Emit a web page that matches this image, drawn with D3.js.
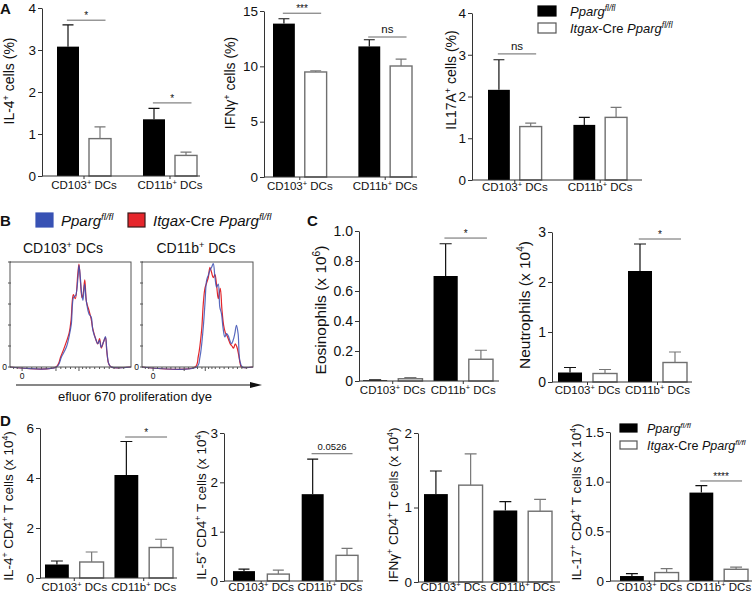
<!DOCTYPE html>
<html><head><meta charset="utf-8">
<script src="https://cdn.jsdelivr.net/npm/d3@7/dist/d3.min.js"></script>
<style>body{margin:0;background:#fff}svg{display:block}text{font-family:"Liberation Sans",Arial,sans-serif;fill:#111}</style>
</head><body><svg id="c" width="754" height="594"></svg>
<script>
// ---------- shared categories ----------
const groups = ["CD103", "CD11b"];
const groupLabels = ["CD103^{+} DCs", "CD11b^{+} DCs"];
const genotypes = ["WT", "KO"];
const legendLabels = ["*Pparg*^{*fl/fl*}", "*Itgax*-Cre *Pparg*^{*fl/fl*}"];

// ---------- Panel A ----------
const il4PctWT = [3.08, 1.35], il4PctWTsem = [0.52, 0.26];
const il4PctKO = [0.89, 0.49], il4PctKOsem = [0.28, 0.08];
const il4PctSig = [[0, 3.71, "*"], [1, 1.74, "*"]];
const il4PctTicks = [0, 1, 2, 3, 4];

const ifngPctWT = [13.86, 11.8], ifngPctWTsem = [0.44, 0.6];
const ifngPctKO = [9.49, 10.03], ifngPctKOsem = [0.11, 0.63];
const ifngPctSig = [[0, 14.8, "***"], [1, 12.65, "ns"]];
const ifngPctTicks = [0, 5, 10, 15];

const il17PctWT = [2.16, 1.32], il17PctWTsem = [0.72, 0.18];
const il17PctKO = [1.28, 1.5], il17PctKOsem = [0.08, 0.24];
const il17PctSig = [[0, 3.02, "ns"]];
const il17PctTicks = [0, 1, 2, 3, 4];

// ---------- Panel B (histograms: channel %, count % of max) ----------
const cd103Blue = [[0,0],[38.4,0],[42.5,9.5],[46.6,19],[49.3,31.7],[50.7,41],[52.6,66.7],[54.2,68],[56.2,85.7],[57,96.8],[58.1,85.7],[59.2,69.8],[60.3,63.5],[61.6,79],[63,63.5],[65.2,50.8],[67.1,47.6],[68.5,34.9],[71.2,25.4],[72.6,22.2],[74,25.4],[75.3,19],[77.3,23.8],[78.9,29],[80,15.9],[81.6,3.2],[83.6,0],[100,0]];
const cd103Red = [[0,0],[38,0],[42,10],[46,22],[49,33],[50.5,45],[52.3,69],[54,65],[56,88],[57,98],[58.3,80],[59.5,66],[60.5,70],[61.8,83],[63.2,62],[65,55],[67,46],[68.5,36],[71,26],[72.5,22],[74,27],[75.5,18],[77.3,24],[78.9,28],[80,15],[81.6,3],[83.6,0],[100,0]];
const cd11bBlue = [[0,0],[49.3,0],[52.2,9.5],[55.2,38],[56.7,60],[58.2,82.5],[59.7,87.3],[61.2,92],[62.7,95],[64.2,98.4],[65.7,85.7],[67.2,76],[68.7,79],[70.1,57],[71.6,50.8],[73.1,36.5],[74.6,28.6],[76.1,31.7],[77.6,30],[79.1,25.4],[80.6,22.2],[82.1,25.4],[83.6,31.7],[85.1,39.7],[86.6,31.7],[88.1,6.3],[90.4,0],[100,0]];
const cd11bRed = [[0,0],[47.8,0],[50.7,10],[53.7,35],[55.2,60],[56.7,75],[58.2,80],[59.7,85],[61.2,95],[62.7,90],[64.2,85],[65.7,88],[67.2,78],[68.7,65],[70.5,75],[72,55],[73.5,40],[75,33],[76.5,30],[78,26],[79.5,22],[81,20],[82.5,18],[84,22],[85.5,19],[87,12],[88.5,3],[89.5,0],[100,0]];
const histTitles = ["CD103^{+} DCs", "CD11b^{+} DCs"];
const histLeftTicks = [0, 20, 40, 60, 80, 100];
const histBottomTicks = [3, 6, 10, 14, 18, 22, 26, 30, 34, 38, 42, 46, 50, 54, 57, 60, 63, 66, 70, 74, 78, 82, 86, 90, 94];
const histXLabel = "efluor 670 proliferation dye";

// ---------- Panel C ----------
const eosWT = [0.005, 0.70], eosWTsem = [0.003, 0.215];
const eosKO = [0.015, 0.145], eosKOsem = [0.008, 0.06];
const eosSig = [[1, 0.953, "*"]];
const eosTicks = [0, 0.2, 0.4, 0.6, 0.8, 1.0];

const neutWT = [0.19, 2.22], neutWTsem = [0.1, 0.54];
const neutKO = [0.17, 0.39], neutKOsem = [0.08, 0.21];
const neutSig = [[1, 2.86, "*"]];
const neutTicks = [0, 1, 2, 3];

// ---------- Panel D ----------
const il4TWT = [0.54, 4.12], il4TWTsem = [0.14, 1.34];
const il4TKO = [0.64, 1.22], il4TKOsem = [0.4, 0.33];
const il4TSig = [[1, 5.64, "*"]];
const il4TTicks = [0, 2, 4, 6];

const il5TWT = [0.2, 1.76], il5TWTsem = [0.04, 0.71];
const il5TKO = [0.14, 0.52], il5TKOsem = [0.08, 0.14];
const il5TSig = [[1, 2.58, "0.0526"]];
const il5TTicks = [0, 1, 2, 3];

const ifngTWT = [1.18, 0.96], ifngTWTsem = [0.31, 0.12];
const ifngTKO = [1.30, 0.95], ifngTKOsem = [0.42, 0.16];
const ifngTSig = [];
const ifngTTicks = [0, 1, 2];

const il17TWT = [0.05, 0.89], il17TWTsem = [0.025, 0.07];
const il17TKO = [0.085, 0.118], il17TKOsem = [0.04, 0.022];
const il17TSig = [[1, 1.007, "****"]];
const il17TTicks = [0, 0.5, 1.0, 1.5];

// ---------- helpers ----------
const svg = d3.select("#c");

function rich(sel, str, fs) {
  const re = /\^\{([^}]*)\}|\*([^*]+)\*|([^*^]+)/g;
  let m, sup = false;
  const up = fs * 0.38;
  while ((m = re.exec(str))) {
    if (m[1] !== undefined) {
      let c = m[1], it = false;
      if (/^\*.*\*$/.test(c)) { it = true; c = c.slice(1, -1); }
      const t = sel.append("tspan").attr("font-size", fs * 0.65).attr("dy", -up).text(c);
      if (it) t.attr("font-style", "italic");
      sup = true;
    } else {
      const t = sel.append("tspan").attr("font-size", fs).text(m[2] !== undefined ? m[2] : m[3]);
      if (m[2] !== undefined) t.attr("font-style", "italic");
      if (sup) { t.attr("dy", up); sup = false; }
    }
  }
  return sel;
}

function barChart(c) {
  const g = svg.append("g");
  const wt = c.wt.map((v, i) => ({g: groups[i], k: "WT", v, e: c.wtSem[i]}));
  const ko = c.ko.map((v, i) => ({g: groups[i], k: "KO", v, e: c.koSem[i]}));
  const data = wt.concat(ko);
  const y = d3.scaleLinear().domain(c.domain).range([c.y0, c.y1]);
  const x0 = d3.scaleBand().domain(groups).range([c.b0, c.b1]).paddingInner(c.gp);
  const x1 = d3.scaleBand().domain(genotypes).range([0, x0.bandwidth()]).paddingInner(c.ip);
  const bx = d => x0(d.g) + x1(d.k);
  const bw = x1.bandwidth();

  // y axis
  const ax = g.append("g").attr("transform", `translate(${c.ax},0)`)
    .call(d3.axisLeft(y).tickValues(c.ticks).tickFormat(c.fmt || d3.format("")).tickSize(4).tickSizeOuter(0).tickPadding(2));
  ax.select(".domain").attr("stroke", "#333");
  ax.selectAll(".tick line").attr("stroke", "#333");
  ax.selectAll(".tick text").attr("font-size", c.tfs).attr("font-family", "Liberation Sans, Arial, sans-serif").attr("fill", "#111");

  // bars
  g.selectAll("rect.bar").data(data).join("rect")
    .attr("x", bx).attr("width", bw)
    .attr("y", d => y(d.v)).attr("height", d => y(0) - y(d.v))
    .attr("fill", d => d.k === "WT" ? "#000" : "#fff")
    .attr("stroke", d => d.k === "WT" ? "#000" : "#6f6f6f")
    .attr("stroke-width", d => d.k === "WT" ? 0 : 1.4);

  // error bars
  const cap = bw * 0.25;
  g.selectAll("path.err").data(data).join("path")
    .attr("d", d => {
      const cx = bx(d) + bw / 2;
      return `M${cx},${y(d.v)}V${y(d.v + d.e)}M${cx - cap},${y(d.v + d.e)}H${cx + cap}`;
    })
    .attr("fill", "none")
    .attr("stroke", d => d.k === "WT" ? "#111" : "#777").attr("stroke-width", 1.2);

  // x axis
  g.append("line").attr("x1", c.ax).attr("x2", c.xEnd).attr("y1", y(0)).attr("y2", y(0)).attr("stroke", "#333");
  g.selectAll("line.xt").data(groups).join("line")
    .attr("x1", d => x0(d) + x0.bandwidth() / 2).attr("x2", d => x0(d) + x0.bandwidth() / 2)
    .attr("y1", y(0)).attr("y2", y(0) + 3).attr("stroke", "#333");
  groups.forEach((gr, i) => {
    rich(g.append("text").attr("x", x0(gr) + x0.bandwidth() / 2).attr("y", c.catY)
      .attr("text-anchor", "middle").attr("font-size", c.cfs), groupLabels[i], c.cfs);
  });

  // significance
  c.sig.forEach(([gi, lvl, lab]) => {
    const gr = groups[gi];
    const xa = x0(gr) + x1("WT") + bw * 0.45, xb = x0(gr) + x1("KO") + bw * 0.75;
    g.append("line").attr("x1", xa).attr("x2", xb).attr("y1", y(lvl)).attr("y2", y(lvl))
      .attr("stroke", "#666").attr("stroke-width", 1);
    const isNum = /\d/.test(lab);
    g.append("text").attr("x", (xa + xb) / 2).attr("y", y(lvl) - (lab.startsWith("*") ? 1 : 4))
      .attr("text-anchor", "middle")
      .attr("font-size", lab.startsWith("*") ? 10 : (isNum ? 9.5 : 11.5))
      .attr("font-family", isNum ? "Open Sans, sans-serif" : "Liberation Sans, Arial, sans-serif")
      .attr("fill", "#222").text(lab);
  });

  // y label
  rich(g.append("text").attr("transform", `translate(${c.lx},${c.ly}) rotate(-90)`)
    .attr("text-anchor", "middle").attr("font-size", c.lfs), c.label, c.lfs);
}

// ---------- Panel A charts ----------
const aCommon = {gp: 0.372, ip: 0.3125, tfs: 13.5, cfs: 11.5, lfs: 14};
barChart({...aCommon, wt: il4PctWT, wtSem: il4PctWTsem, ko: il4PctKO, koSem: il4PctKOsem, sig: il4PctSig,
  domain: [0, 4], ticks: il4PctTicks, y0: 176, y1: 8, ax: 42, xEnd: 200, b0: 57, b1: 197, catY: 189,
  label: "IL-4^{+} cells (%)", lx: 14, ly: 81});
barChart({...aCommon, wt: ifngPctWT, wtSem: ifngPctWTsem, ko: ifngPctKO, koSem: ifngPctKOsem, sig: ifngPctSig,
  domain: [0, 15], ticks: ifngPctTicks, y0: 177, y1: 11, ax: 264, xEnd: 417, b0: 273, b1: 412, catY: 190,
  label: "IFNγ^{+} cells (%)", lx: 235, ly: 83});
barChart({...aCommon, wt: il17PctWT, wtSem: il17PctWTsem, ko: il17PctKO, koSem: il17PctKOsem, sig: il17PctSig,
  domain: [0, 4], ticks: il17PctTicks, y0: 180, y1: 13, ax: 472, xEnd: 642, b0: 488, b1: 627, catY: 191,
  label: "IL17A^{+} cells (%)", lx: 456, ly: 80});

// ---------- Panel C charts ----------
const cCommon = {gp: 0.157, ip: 0.314, tfs: 14, cfs: 11.5, lfs: 15.5};
barChart({...cCommon, wt: eosWT, wtSem: eosWTsem, ko: eosKO, koSem: eosKOsem, sig: eosSig,
  domain: [0, 1], ticks: eosTicks, fmt: d => d === 0 ? "0" : d3.format(".1f")(d), y0: 381, y1: 231, ax: 359, xEnd: 499,
  b0: 363, b1: 493, catY: 394, label: "Eosinophils (x 10^{6})", lx: 326, ly: 310});
barChart({...cCommon, wt: neutWT, wtSem: neutWTsem, ko: neutKO, koSem: neutKOsem, sig: neutSig,
  domain: [0, 3], ticks: neutTicks, y0: 382, y1: 232, ax: 552, xEnd: 692,
  b0: 558, b1: 687, catY: 394, label: "Neutrophils (x 10^{4})", lx: 530, ly: 305});

// ---------- Panel D charts ----------
const dCommon = {gp: 0.157, ip: 0.314, tfs: 13.5, cfs: 11.5, lfs: 13.5};
barChart({...dCommon, wt: il4TWT, wtSem: il4TWTsem, ko: il4TKO, koSem: il4TKOsem, sig: il4TSig,
  domain: [0, 6], ticks: il4TTicks, y0: 578, y1: 428, ax: 40, xEnd: 177, b0: 45, b1: 173, catY: 591,
  label: "IL-4^{+} CD4^{+} T cells (x 10^{4})", lx: 13, ly: 506});
barChart({...dCommon, gp: 0.18, ip: 0.36, wt: il5TWT, wtSem: il5TWTsem, ko: il5TKO, koSem: il5TKOsem, sig: il5TSig,
  domain: [0, 3], ticks: il5TTicks, y0: 581, y1: 433, ax: 224, xEnd: 363, b0: 233, b1: 358, catY: 591,
  label: "IL-5^{+} CD4^{+} T cells (x 10^{4})", lx: 206, ly: 505});
barChart({...dCommon, wt: ifngTWT, wtSem: ifngTWTsem, ko: ifngTKO, koSem: ifngTKOsem, sig: ifngTSig,
  domain: [0, 2], ticks: ifngTTicks, y0: 582, y1: 433, ax: 418, xEnd: 560, b0: 424, b1: 552, catY: 591,
  label: "IFNγ^{+} CD4^{+} T cells (x 10^{4})", lx: 398, ly: 505});
barChart({...dCommon, wt: il17TWT, wtSem: il17TWTsem, ko: il17TKO, koSem: il17TKOsem, sig: il17TSig,
  domain: [0, 1.5], ticks: il17TTicks, fmt: d => d === 0 ? "0" : d3.format(".1f")(d), y0: 581, y1: 432, ax: 610, xEnd: 752,
  b0: 620, b1: 748, catY: 591, label: "IL-17^{+} CD4^{+} T cells (x 10^{4})", lx: 581, ly: 502});

// ---------- legends ----------
function legend(x, ys, w, h, tx, fs, fills, strokes) {
  legendLabels.forEach((lab, i) => {
    svg.append("rect").attr("x", x).attr("y", ys[i]).attr("width", w).attr("height", h)
      .attr("fill", fills[i]).attr("stroke", strokes[i]).attr("stroke-width", 1.2);
    rich(svg.append("text").attr("x", tx).attr("y", ys[i] + h / 2 + fs * 0.36).attr("font-size", fs), lab, fs);
  });
}
legend(538, [6, 23], 18, 10, 570, 13, ["#000", "#fff"], ["#000", "#555"]);
legend(620, [424, 441], 17, 8, 647, 12.5, ["#000", "#fff"], ["#000", "#555"]);
// Panel B legend (horizontal)
[[36, 61, "#3852b4", "#3852b4"], [128, 153, "#e6262c", "#3a1a1a"]].forEach(([rx, tx, f, s], i) => {
  svg.append("rect").attr("x", rx).attr("y", 213).attr("width", 17).attr("height", 14).attr("fill", f).attr("stroke", s).attr("stroke-width", 1.2);
  rich(svg.append("text").attr("x", tx).attr("y", 226).attr("font-size", 15), legendLabels[i], 15);
});

// ---------- Panel B histograms ----------
const boxes = [{x0: 10, x1: 131, blue: cd103Blue, red: cd103Red, tx: 63}, {x0: 142, x1: 253, blue: cd11bBlue, red: cd11bRed, tx: 196}];
boxes.forEach((b, i) => {
  const g = svg.append("g");
  const x = d3.scaleLinear().domain([0, 100]).range([b.x0, b.x1]);
  const y = d3.scaleLinear().domain([0, 100]).range([367, 262]);
  const line = d3.line().x(d => x(d[0])).y(d => y(d[1])).curve(d3.curveCatmullRom.alpha(0.5));
  g.append("path").attr("d", line(b.red)).attr("fill", "none").attr("stroke", "#e3262b").attr("stroke-width", 1.2);
  g.append("path").attr("d", line(b.blue)).attr("fill", "none").attr("stroke", "#3c50b4").attr("stroke-width", 1.2).attr("opacity", 0.85);
  g.append("rect").attr("x", b.x0).attr("y", 262).attr("width", b.x1 - b.x0).attr("height", 105)
    .attr("fill", "none").attr("stroke", "#555").attr("stroke-width", 1);
  g.selectAll("line.lt").data(histLeftTicks).join("line")
    .attr("x1", b.x0 - 2).attr("x2", b.x0 + 1).attr("y1", d => y(d)).attr("y2", d => y(d)).attr("stroke", "#555");
  g.selectAll("line.bt").data(histBottomTicks).join("line")
    .attr("x1", d => x(d)).attr("x2", d => x(d)).attr("y1", 367).attr("y2", d => [10, 38, 57, 76].includes(d) ? 371 : 369).attr("stroke", "#555");
  g.append("text").attr("x", b.x0 - 3).attr("y", 370).attr("text-anchor", "end").attr("font-size", 8.5).text("0");
  g.append("text").attr("x", x(10)).attr("y", 379).attr("text-anchor", "middle").attr("font-size", 8.5).text("0");
  rich(svg.append("text").attr("x", b.tx).attr("y", 253).attr("text-anchor", "middle").attr("font-size", 14), histTitles[i], 14);
});
// arrow
svg.append("line").attr("x1", 16).attr("x2", 252).attr("y1", 385).attr("y2", 385).attr("stroke", "#111").attr("stroke-width", 1.2);
svg.append("path").attr("d", "M250,382L262,385L250,388Z").attr("fill", "#111");
svg.append("text").attr("x", 135).attr("y", 401).attr("text-anchor", "middle").attr("font-size", 13).text(histXLabel);

// ---------- panel letters ----------
[["A", 0, 14], ["B", 0, 226], ["C", 307, 226], ["D", 0, 426]].forEach(([t, x, yy]) => {
  svg.append("text").attr("x", x).attr("y", yy).attr("font-size", 15).attr("font-weight", "bold").text(t);
});
</script></body></html>
